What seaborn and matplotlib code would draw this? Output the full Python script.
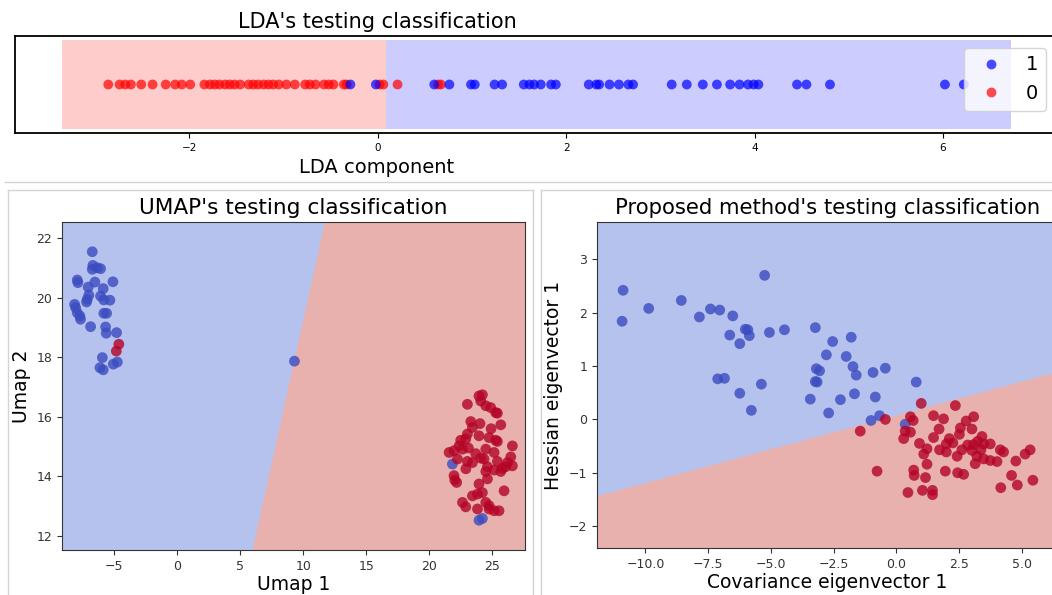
import numpy as np
import pandas as pd
import matplotlib
matplotlib.use("Agg")
import matplotlib.pyplot as plt
from matplotlib.lines import Line2D
import seaborn as sns

# ---------------- LDA (1-D) ----------------
lda_red_x = [-2.86, -2.74, -2.68, -2.62, -2.51, -2.39, -2.25, -2.15, -2.08, -1.99,
             -1.84, -1.78, -1.73, -1.68, -1.62, -1.57, -1.52, -1.46, -1.37, -1.32,
             -1.27, -1.21, -1.16, -1.11, -1.05, -0.97, -0.88, -0.77, -0.72, -0.66,
             -0.57, -0.52, -0.47, -0.36, -0.33, 0.02, 0.06, 0.21, 0.64, 0.67]
lda_blue_x = [-0.29, -0.02, 0.60, 0.76, 0.99, 1.03, 1.24, 1.32, 1.55, 1.61,
              1.66, 1.73, 1.84, 1.89, 2.24, 2.32, 2.35, 2.46, 2.56, 2.66,
              2.71, 3.12, 3.28, 3.45, 3.60, 3.74, 3.84, 3.93, 3.99, 4.04,
              4.45, 4.55, 4.80, 6.02, 6.22]
lda_region_edges = [-3.35, 0.09, 6.72]   # red region | boundary | blue region
lda_xlim = [-3.85, 7.22]

# ---------------- UMAP ----------------
umap_c0_x = [-6.74, -6.69, -6.34, -6.08, -6.74, -7.93, -7.88, -6.53, -5.10, -7.06,
             -5.87, -7.01, -7.14, -7.19, -6.08, -5.82, -5.34, -8.14, -8.06, -7.93,
             -7.72, -7.67, -5.82, -5.60, -6.87, -5.68, -5.63, -4.81, -5.94, -6.13,
             -5.87, -5.07, -4.75, 9.30, 21.83, 23.94, 24.21]
umap_c0_y = [21.55, 21.09, 21.01, 20.98, 20.96, 20.60, 20.51, 20.53, 20.54, 20.36,
             20.31, 20.09, 19.95, 19.86, 20.06, 19.93, 19.92, 19.78, 19.67, 19.50,
             19.39, 19.28, 19.48, 19.48, 19.03, 19.02, 18.81, 18.83, 17.99, 17.65,
             17.58, 17.77, 17.84, 17.87, 14.41, 12.52, 12.58]
umap_c1_x = [-4.63, -4.83,
             23.94, 24.21, 24.08, 23.02, 24.48, 24.87, 25.27, 25.40, 23.29, 24.02,
             23.42, 25.67, 23.02, 22.89, 22.49, 23.94, 24.74, 25.27, 25.40, 26.59,
             22.36, 22.63, 21.57, 21.96, 24.48, 25.14, 23.68, 26.46, 24.08, 24.34,
             23.02, 23.42, 25.40, 26.20, 22.23, 24.61, 25.80, 26.59, 26.06, 24.48,
             25.14, 25.67, 21.96, 22.02, 22.17, 24.61, 23.94, 25.93, 23.42, 23.82,
             24.21, 22.63, 22.89, 24.48, 24.74, 23.82, 25.14, 25.53, 24.74, 23.10,
             24.90, 22.90]
umap_c1_y = [18.44, 18.21,
             16.70, 16.74, 16.53, 16.42, 16.37, 16.31, 16.14, 16.12, 15.84, 15.77,
             15.64, 15.73, 15.42, 15.25, 15.21, 15.36, 15.30, 15.21, 15.17, 15.02,
             15.02, 14.91, 14.80, 14.86, 14.91, 14.80, 14.76, 14.65, 14.61, 14.58,
             14.50, 14.46, 14.50, 14.46, 14.58, 14.32, 14.27, 14.35, 14.32, 14.16,
             14.21, 14.16, 14.02, 13.87, 13.79, 13.91, 13.74, 13.51, 13.34, 13.40,
             13.45, 13.12, 12.97, 13.12, 13.01, 12.90, 12.84, 12.84, 12.90, 14.95,
             15.60, 14.25]
umap_boundary = [(6.02, 11.5), (11.75, 22.52)]

# ---------------- Proposed method ----------------
prop_c0_x = [-10.89, -10.93, -9.87, -8.57, -7.85, -7.41, -7.04, -6.52, -5.25, -6.02,
             -5.92, -6.64, -5.86, -6.24, -5.06, -4.46, -3.23, -2.54, -1.80, -2.79,
             -2.00, -1.73, -3.19, -3.06, -1.60, -0.93, -0.44, -3.23, -3.16, -7.12,
             -6.85, -5.38, -6.24, -5.78, -3.43, -2.23, -1.67, -0.84, -2.70, 0.79,
             -1.01, -0.67, 0.35]
prop_c0_y = [2.42, 1.84, 2.08, 2.23, 1.92, 2.07, 2.05, 1.94, 2.70, 1.69,
             1.68, 1.58, 1.57, 1.42, 1.63, 1.68, 1.72, 1.46, 1.54, 1.21,
             1.18, 0.99, 0.95, 0.91, 0.83, 0.88, 0.96, 0.71, 0.70, 0.76,
             0.77, 0.66, 0.49, 0.17, 0.38, 0.37, 0.48, 0.42, 0.12, 0.70,
             -0.02, 0.07, -0.09]
prop_c1_x = [-0.44, -1.44, -0.77, 0.99, 2.35, 0.56, 0.67, 1.48, 1.88, 3.08,
             2.78, 2.55, 3.01, 1.70, 0.35, 0.56, 0.29, 1.48, 2.11, 2.51,
             0.92, 1.99, 2.25, 3.08, 3.48, 3.74, 1.22, 1.72, 1.99, 2.61,
             3.01, 3.37, 4.14, 4.27, 5.33, 1.09, 2.42, 3.21, 3.48, 3.74,
             4.01, 3.14, 4.76, 5.13, 1.22, 0.69, 0.71, 1.95, 2.44, 2.68,
             1.16, 4.59, 4.82, 5.44, 4.16, 0.46, 1.04, 1.44, 1.44, 2.84,
             3.24, 3.41]
prop_c1_y = [0.00, -0.22, -0.97, 0.30, 0.26, 0.05, -0.02, 0.07, 0.01, 0.05,
             -0.03, -0.16, -0.18, -0.18, -0.22, -0.24, -0.36, -0.34, -0.36, -0.28,
             -0.45, -0.46, -0.44, -0.47, -0.46, -0.46, -0.55, -0.57, -0.61, -0.57,
             -0.58, -0.57, -0.57, -0.61, -0.57, -0.65, -0.69, -0.69, -0.74, -0.77,
             -0.79, -0.83, -0.78, -0.65, -0.84, -0.95, -1.05, -0.97, -1.00, -1.03,
             -1.09, -1.05, -1.23, -1.14, -1.28, -1.37, -1.33, -1.33, -1.41, -0.48,
             -0.41, -0.32]
prop_boundary = [(-11.93, -1.45), (6.44, 0.88)]

# ---------------- figure ----------------
W, H = 1052, 595
fig = plt.figure(figsize=(W / 100, H / 100), dpi=100)

def fig_rect(left, right, top, bottom):
    return [left / W, 1 - bottom / H, (right - left) / W, (bottom - top) / H]

cw = plt.get_cmap("coolwarm")
c_blue, c_red = cw(0.0), cw(1.0)
bg_blue, bg_red = "#b5c2ed", "#e8b1ae"

# ---- top: LDA ----
ax0 = fig.add_axes(fig_rect(15, 1058, 36, 133))
ax0.fill_between([lda_region_edges[0], lda_region_edges[1]], -1, 1,
                 color="red", alpha=0.2, linewidth=0)
ax0.fill_between([lda_region_edges[1], lda_region_edges[2]], -1, 1,
                 color="blue", alpha=0.2, linewidth=0)
lda_df = pd.DataFrame({
    "x": lda_red_x + lda_blue_x,
    "y": [0.0] * (len(lda_red_x) + len(lda_blue_x)),
    "label": [0] * len(lda_red_x) + [1] * len(lda_blue_x),
})
sns.scatterplot(data=lda_df, x="x", y="y", hue="label", hue_order=[1, 0],
                palette={1: "blue", 0: "red"}, s=50, alpha=0.7, linewidth=0,
                ax=ax0)
leg = ax0.get_legend()
handles = leg.legend_handles
labels = [t.get_text() for t in leg.get_texts()]
leg.remove()
ax0.legend(handles, labels, loc="upper right", fontsize=14, borderaxespad=0.6)
ax0.set_xlim(*lda_xlim)
ax0.set_ylim(-1.1, 1.1)
ax0.set_yticks([])
ax0.set_ylabel("")
ax0.tick_params(axis="x", labelsize=7.5)
ax0.set_xlabel("LDA component", fontsize=14)
ax0.xaxis.label.set_x(0.347)
ax0.set_title("LDA's testing classification", fontsize=15, x=0.347)
for sp in ax0.spines.values():
    sp.set_linewidth(1.3)


def region_panel(ax, c0x, c0y, c1x, c1y, boundary, title, xlabel, ylabel, tsize):
    allx = np.array(c0x + c1x)
    ally = np.array(c0y + c1y)
    xmin, xmax = allx.min() - 1, allx.max() + 1
    ymin, ymax = ally.min() - 1, ally.max() + 1
    xx, yy = np.meshgrid(np.linspace(xmin, xmax, 600), np.linspace(ymin, ymax, 600))
    (x1, y1), (x2, y2) = boundary
    zz = ((xx - x1) * (y2 - y1) - (yy - y1) * (x2 - x1) > 0).astype(float)
    ax.contourf(xx, yy, zz, levels=[-0.5, 0.5, 1.5], colors=[bg_blue, bg_red])
    df = pd.DataFrame({
        "x": c0x + c1x,
        "y": c0y + c1y,
        "label": [0] * len(c0x) + [1] * len(c1x),
    })
    sns.scatterplot(data=df, x="x", y="y", hue="label",
                    palette={0: c_blue, 1: c_red}, s=60, alpha=0.8,
                    linewidth=0, legend=False, ax=ax)
    ax.set_xlim(xmin, xmax)
    ax.set_ylim(ymin, ymax)
    ax.set_title(title, fontsize=tsize)
    ax.set_xlabel(xlabel, fontsize=13.5, labelpad=2)
    ax.set_ylabel(ylabel, fontsize=13.5)
    ax.tick_params(labelsize=9, colors="#333333")
    for sp in ax.spines.values():
        sp.set_color("#333333")


ax1 = fig.add_axes(fig_rect(62, 525, 222, 550))
region_panel(ax1, umap_c0_x, umap_c0_y, umap_c1_x, umap_c1_y, umap_boundary,
             "UMAP's testing classification", "Umap 1", "Umap 2", 15.6)

ax2 = fig.add_axes(fig_rect(597, 1058, 222, 548))
region_panel(ax2, prop_c0_x, prop_c0_y, prop_c1_x, prop_c1_y, prop_boundary,
             "Proposed method's testing classification",
             "Covariance eigenvector 1", "Hessian eigenvector 1", 15.2)

# thin grey separators of the composite
def sep(x0, y0, x1, y1):
    fig.add_artist(Line2D([x0 / W, x1 / W], [1 - y0 / H, 1 - y1 / H],
                          transform=fig.transFigure, color="#d4d4d4", lw=1))

sep(5, 182, 1052, 182)
sep(8, 190, 533, 190)
sep(8, 190, 8, 595)
sep(533, 190, 533, 595)
sep(541, 190, 1052, 190)
sep(541, 190, 541, 595)

fig.savefig("out.png", dpi=100)
